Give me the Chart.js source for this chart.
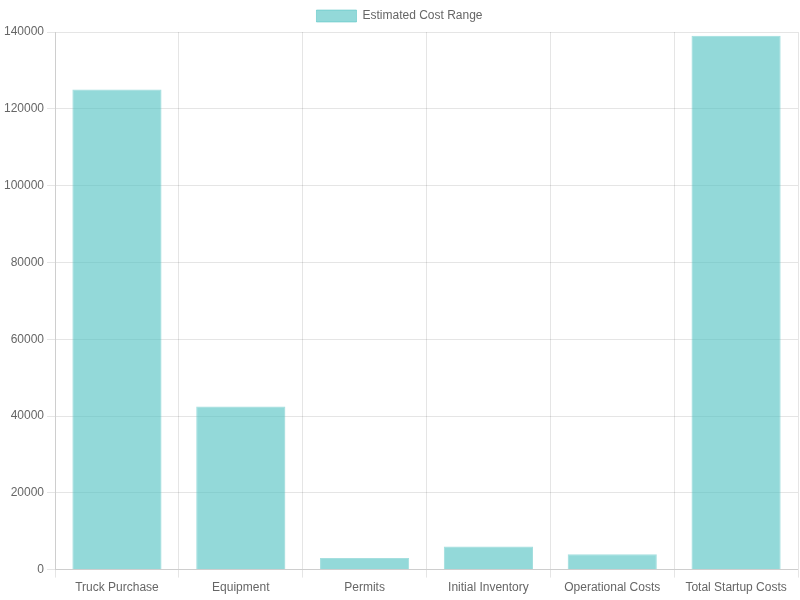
<!DOCTYPE html>
<html>
<head>
<meta charset="utf-8">
<script src="https://cdn.jsdelivr.net/npm/chart.js@4/dist/chart.umd.min.js"></script>
<style>
html,body{margin:0;padding:0;background:#fff;}
#wrap{width:800px;height:600px;}
</style>
</head>
<body>
<div id="wrap"><canvas id="c"></canvas></div>
<script>
const categories = ["Truck Purchase", "Equipment", "Permits", "Initial Inventory", "Operational Costs", "Total Startup Costs"];
const costValues = [125000, 42500, 3000, 6000, 4000, 139000];
const seriesLabel = "Estimated Cost Range";
const yTicks = [0, 20000, 40000, 60000, 80000, 100000, 120000, 140000];

Chart.defaults.font.family = "'Liberation Sans', Arial, Helvetica, sans-serif";
Chart.defaults.color = "#666";

new Chart(document.getElementById('c'), {
  type: 'bar',
  data: {
    labels: categories,
    datasets: [{
      label: seriesLabel,
      data: costValues,
      backgroundColor: 'rgba(75, 192, 192, 0.6)',
      borderColor: 'rgba(75, 192, 192, 0.5)',
      borderWidth: 1
    }]
  },
  options: {
    responsive: true,
    maintainAspectRatio: false,
    animation: false,
    layout: { padding: { left: 1, right: 2, bottom: 2 } },
    scales: {
      y: {
        beginAtZero: true,
        min: yTicks[0],
        max: yTicks[yTicks.length - 1],
        ticks: { stepSize: yTicks[1] - yTicks[0], callback: v => String(v) }
      }
    }
  }
});
</script>
</body>
</html>
